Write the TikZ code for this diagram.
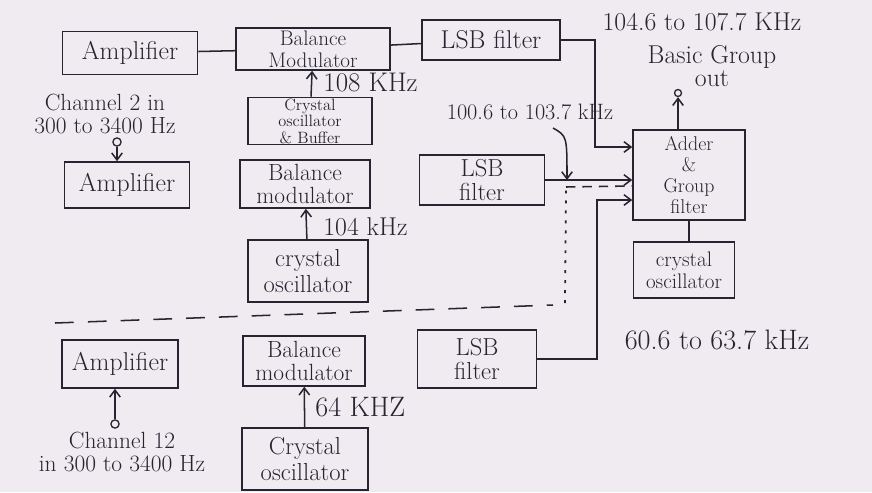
\documentclass[tikz,border=0pt]{standalone}
\usetikzlibrary{arrows.meta}
\definecolor{paper}{RGB}{239,235,241}
\definecolor{ink}{RGB}{38,36,48}
\newcommand{\fsz}[2]{\fontsize{#1}{#2}\selectfont}
\tikzset{
  block/.style={draw=ink, line width=1.3pt, align=center, inner sep=1pt, text=ink, font=\fsz{18}{19}},
  lbl/.style={text=ink, align=center, inner sep=1pt, font=\fsz{22}{22}},
  wire/.style={draw=ink, line width=1.3pt},
  sig/.style={wire, -{Straight Barb[length=6pt,width=9pt]}},
  port/.style={circle, draw=ink, line width=1.1pt, inner sep=0pt, minimum size=7pt}
}
\begin{document}
\begin{tikzpicture}[x=0.03cm,y=-0.03cm]
  \fill[paper] (0,0) rectangle (872,492);
  \useasboundingbox (0,0) rectangle (872,492);
  \node[block, minimum width=4.05cm, minimum height=1.29cm, font=\fsz{22}{22}] (amp1) at (130,53) {Amplifier};
  \node[block, minimum width=4.62cm, minimum height=1.26cm] (bm1) at (313,49) {Balance\\Modulator};
  \node[block, minimum width=4.14cm, minimum height=1.2cm, font=\fsz{22}{22}] (lsb1) at (491,40) {LSB filter};
  \node[block, minimum width=3.72cm, minimum height=1.41cm, font=\fsz{14}{14}] (xo1) at (310,121) {Crystal\\oscillator\\\& Buffer};
  \node[lbl, anchor=west, font=\fsz{23}{23}] (f1) at (322,83) {108 KHz};
  \node[lbl, font=\fsz{20}{20}] (ch2) at (105,114) {Channel 2 in\\300 to 3400 Hz};
  \node[port] (in2) at (117,142) {};
  \node[block, minimum width=3.75cm, minimum height=1.38cm, font=\fsz{22}{22}] (amp2) at (127,185) {Amplifier};
  \node[block, minimum width=3.9cm, minimum height=1.44cm, font=\fsz{20}{20}] (bm2) at (305,184) {Balance\\modulator};
  \node[block, minimum width=3.75cm, minimum height=1.5cm, font=\fsz{21}{21}] (lsb2) at (482,180) {LSB\\filter};
  \node[lbl, anchor=west] (f2) at (322,227) {104 kHz};
  \node[block, minimum width=3.6cm, minimum height=1.86cm, font=\fsz{21}{22}] (xo2) at (308,271) {crystal\\oscillator};
  \node[block, minimum width=3.36cm, minimum height=2.7cm, font=\fsz{17}{18}] (add) at (689,175) {Adder\\\&\\Group\\filter};
  \node[block, minimum width=3.03cm, minimum height=1.68cm, font=\fsz{18}{19}] (xo4) at (684,270) {crystal\\oscillator};
  \node[port, minimum size=6pt] (out) at (678,93) {};
  \node[lbl, font=\fsz{22}{20}] (bgo) at (712,66) {Basic Group\\out};
  \node[lbl] (r1) at (702,22) {104.6 to 107.7 KHz};
  \node[lbl, font=\fsz{19}{19}] (r2) at (530,112) {100.6 to 103.7 kHz};
  \node[lbl, font=\fsz{24}{24}] (r3) at (717,340) {60.6 to 63.7 kHz};
  \node[block, minimum width=3.48cm, minimum height=1.44cm, font=\fsz{22}{22}] (amp3) at (120,364) {Amplifier};
  \node[block, minimum width=3.66cm, minimum height=1.5cm, font=\fsz{20}{20}] (bm3) at (304,361) {Balance\\modulator};
  \node[block, minimum width=3.57cm, minimum height=1.74cm, font=\fsz{21}{21}] (lsb3) at (477,359) {LSB\\filter};
  \node[lbl, anchor=west, font=\fsz{24}{24}] (f3) at (314,407) {64 KHZ};
  \node[block, minimum width=3.78cm, minimum height=1.86cm, font=\fsz{21}{22}] (xo3) at (305,459) {Crystal\\oscillator};
  \node[port] (in12) at (115,424) {};
  \node[lbl, font=\fsz{20}{20}] (ch12) at (122,452) {Channel 12\\in 300 to 3400 Hz};
  \coordinate (j1) at (595,147);
  \coordinate (j3) at (597,200);
  \coordinate (t2) at (567,180);
  \coordinate (c2) at (553,128);
  \draw[wire] (amp1) -- (bm1);
  \draw[wire] (bm1) -- (lsb1);
  \draw[sig] (xo1) -- (bm1);
  \draw[sig] (in2) -- (in2 |- amp2.north);
  \draw[sig] (xo2) -- (bm2);
  \draw[sig] (xo3) -- (bm3);
  \draw[sig] (in12) -- (in12 |- amp3.south);
  \draw[sig] (lsb1.east) -| (j1) -- (j1 -| add.west);
  \draw[sig] (lsb2.east) -- (lsb2.east -| add.west);
  \draw[sig] (lsb3.east) -| (j3) -- (j3 -| add.west);
  \draw[sig] (c2) .. controls (567,136) .. (t2);
  \draw[wire] (add.south) -- (add.south |- xo4.north);
  \draw[sig] (add.north -| out) -- (out);
  \draw[wire, dash pattern=on 16pt off 12pt] (55,323) -- (553,305);
  \draw[wire, line width=1.5pt, dash pattern=on 2.5pt off 6pt] (565,303) -- (566,190);
  \draw[wire, dash pattern=on 8pt off 6pt] (566,187) -- (632,186);
\end{tikzpicture}
\end{document}
